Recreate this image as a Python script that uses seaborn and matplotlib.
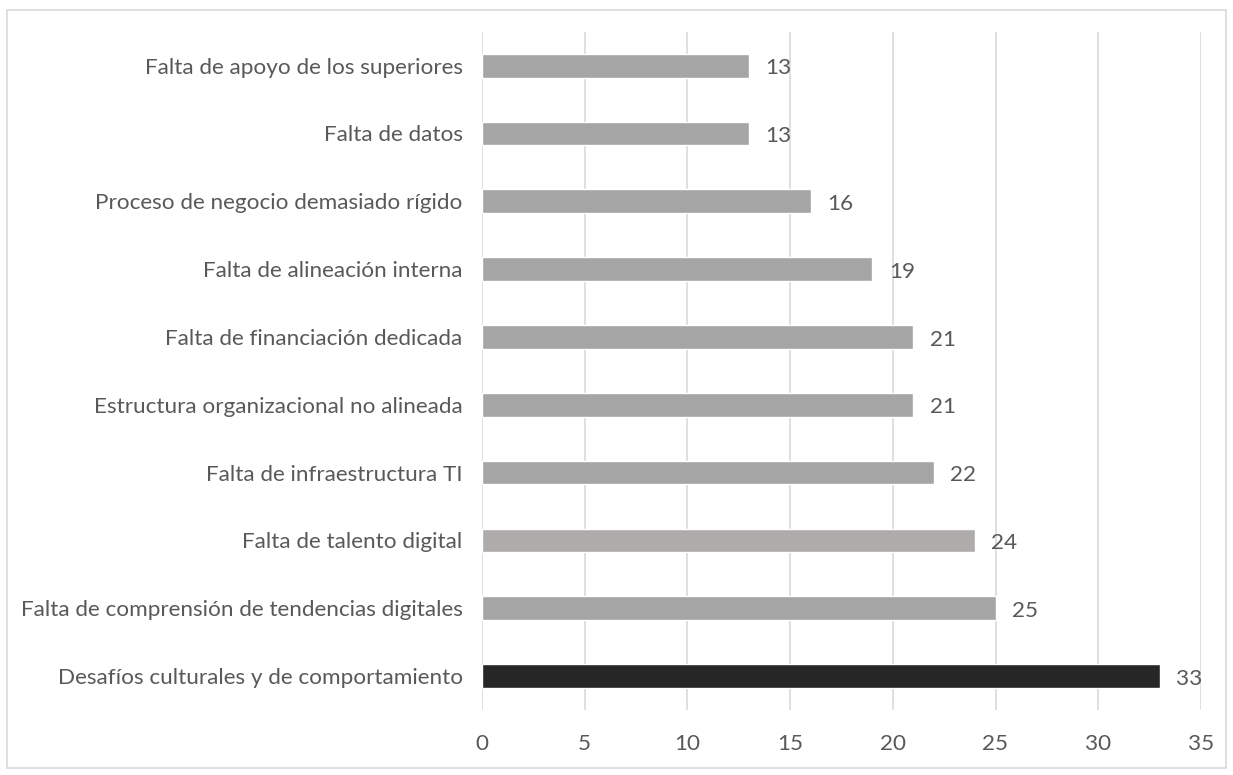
import matplotlib
matplotlib.use("Agg")
import matplotlib.pyplot as plt
import seaborn as sns
import pandas as pd
from matplotlib.patches import Rectangle

categories = [
    "Falta de apoyo de los superiores",
    "Falta de datos",
    "Proceso de negocio demasiado rígido",
    "Falta de alineación interna",
    "Falta de financiación dedicada",
    "Estructura organizacional no alineada",
    "Falta de infraestructura TI",
    "Falta de talento digital",
    "Falta de comprensión de tendencias digitales",
    "Desafíos culturales y de comportamiento",
]
values = [13, 13, 16, 19, 21, 21, 22, 24, 25, 33]
bar_colors = ["#A5A5A5", "#A5A5A5", "#A5A5A5", "#A5A5A5", "#A5A5A5",
              "#A5A5A5", "#A5A5A5", "#AEABAB", "#A5A5A5", "#262626"]
x_ticks = [0, 5, 10, 15, 20, 25, 30, 35]

df = pd.DataFrame({"cat": categories, "val": values})

sns.set_theme(style="white")
plt.rcParams["font.family"] = ["Lato", "DejaVu Sans"]
text_color = "#595959"
fs = 16.2

fig = plt.figure(figsize=(12.33, 7.75), dpi=100)
ax = fig.add_axes([0.391, 0.084, 0.583, 0.875])

sns.barplot(data=df, x="val", y="cat", hue="cat", palette=bar_colors,
            legend=False, width=0.35, ax=ax, saturation=1, zorder=3)

ax.set_xlim(0, 35)
ax.set_xticks(x_ticks)
ax.set_xlabel("")
ax.set_ylabel("")
ax.xaxis.grid(True, color="#D9D9D9", linewidth=1.2, zorder=0)
ax.yaxis.grid(False)
for s in ax.spines.values():
    s.set_visible(False)
ax.tick_params(axis="both", length=0, labelsize=fs, colors=text_color)
ax.tick_params(axis="x", pad=17)
ax.tick_params(axis="y", pad=14)

for i, v in enumerate(values):
    ax.text(v + 0.8, i + 0.04, str(v), va="center", ha="left", fontsize=fs, color=text_color)

fig.patches.append(Rectangle((7 / 1233, 1 - 768 / 775), 1219 / 1233, 758 / 775,
                             transform=fig.transFigure, fill=False,
                             edgecolor="#D9D9D9", linewidth=1.2))

fig.savefig("out.png", dpi=100, facecolor="white")
